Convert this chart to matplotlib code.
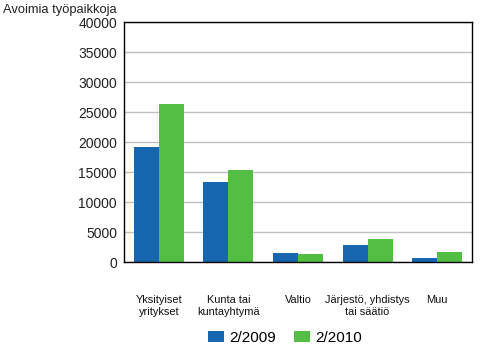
import matplotlib
matplotlib.use("Agg")
import matplotlib.pyplot as plt
import numpy as np
from matplotlib.patches import Patch

categories = ["Yksityiset\nyritykset", "Kunta tai\nkuntayhtymä", "Valtio",
              "Järjestö, yhdistys\ntai säätiö", "Muu"]
series_names = ["2/2009", "2/2010"]
values_2009 = [19200, 13350, 1500, 2850, 650]
values_2010 = [26350, 15350, 1350, 3850, 1650]
y_ticks = [0, 5000, 10000, 15000, 20000, 25000, 30000, 35000, 40000]
y_title = "Avoimia työpaikkoja"

blue = "#1766B0"
green = "#52BE44"

plt.rcParams['font.family'] = ['Liberation Sans', 'DejaVu Sans']

fig = plt.figure(figsize=(5, 3.5), dpi=100)
ax = fig.add_axes([0.248, 0.2514, 0.696, 0.6857])

x = np.arange(len(categories))
w = 0.36
ax.bar(x - w / 2, values_2009, width=w, color=blue, zorder=3)
ax.bar(x + w / 2, values_2010, width=w, color=green, zorder=3)

ax.set_xlim(-0.5, len(categories) - 0.5)
ax.set_ylim(0, 40000)
ax.set_yticks(y_ticks)
ax.set_yticklabels([str(t) for t in y_ticks], fontsize=10, color="#222222")
ax.set_xticks(x)
ax.set_xticklabels(categories, fontsize=7.9, color="#111111", linespacing=1.15)
ax.tick_params(axis='x', length=0, pad=24)
ax.tick_params(axis='y', length=0, pad=5)
ax.yaxis.grid(True, color="#c0c0c0", linewidth=1.0, zorder=0)
ax.set_axisbelow(True)
for s in ax.spines.values():
    s.set_color("black")
    s.set_linewidth(1.0)
    s.set_zorder(4)

fig.text(0.006, 0.988, y_title, fontsize=9.3, va='top', ha='left', color="#222222")

handles = [Patch(facecolor=blue, edgecolor='none'), Patch(facecolor=green, edgecolor='none')]
fig.legend(handles, series_names, loc='center', bbox_to_anchor=(0.57, 1 - 338 / 350),
           ncol=2, frameon=False, fontsize=11, handlelength=1.05, handleheight=0.7,
           handletextpad=0.3, columnspacing=1.2, borderpad=0, borderaxespad=0)

fig.savefig("out.png", dpi=100)
